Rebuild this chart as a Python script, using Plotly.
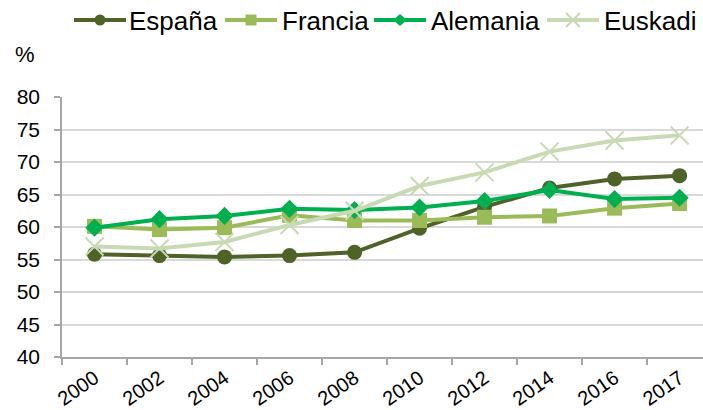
import plotly.graph_objects as go

years = ["2000", "2002", "2004", "2006", "2008", "2010", "2012", "2014", "2016", "2017"]
espana = [55.8, 55.6, 55.4, 55.6, 56.1, 59.8, 63.1, 66.0, 67.4, 67.9]
francia = [60.1, 59.6, 59.9, 61.8, 61.0, 61.0, 61.5, 61.7, 62.9, 63.6]
alemania = [59.9, 61.2, 61.7, 62.8, 62.6, 63.0, 64.0, 65.7, 64.3, 64.5]
euskadi = [57.0, 56.7, 57.7, 60.3, 62.5, 66.3, 68.4, 71.6, 73.3, 74.1]

names = ["España", "Francia", "Alemania", "Euskadi"]
colors = ["#4F6228", "#9BBB59", "#00B050", "#C8DAB4"]
symbols = ["circle", "square", "diamond", "x-thin"]
values = [espana, francia, alemania, euskadi]

W, H = 703, 410
L, R, T, B = 62, 0, 97, 53
PW, PH = W - L - R, H - T - B


def px_x(px):
    return (px - L) / PW


def px_y(py):
    return (H - B - py) / PH


fig = go.Figure()
for name, vals, color, sym in zip(names, values, colors, symbols):
    if sym == "x-thin":
        marker = dict(symbol=sym, size=18, color=color, line=dict(width=2, color=color))
    elif sym == "diamond":
        marker = dict(symbol=sym, size=14, color=color)
    else:
        marker = dict(symbol=sym, size=15, color=color)
    fig.add_trace(go.Scatter(
        x=years, y=vals, name=name, mode="lines+markers",
        line=dict(color=color, width=4), marker=marker, showlegend=False,
    ))

# Custom legend (layout decoration)
shapes = []
annotations = []
sym_start = [74, 225, 374, 547]
text_start = [128, 281, 430, 603]
ly = 20
for i, (name, color, sym) in enumerate(zip(names, colors, symbols)):
    x0, x1 = sym_start[i], sym_start[i] + 52
    cx = (x0 + x1) / 2
    shapes.append(dict(type="line", xref="paper", yref="paper",
                       x0=px_x(x0), x1=px_x(x1), y0=px_y(ly), y1=px_y(ly),
                       line=dict(color=color, width=4)))
    common = dict(xref="paper", yref="paper", xsizemode="pixel", ysizemode="pixel",
                  xanchor=px_x(cx), yanchor=px_y(ly))
    if sym == "circle":
        shapes.append(dict(type="circle", x0=-5.5, x1=5.5, y0=-5.5, y1=5.5,
                           fillcolor=color, line=dict(width=0), **common))
    elif sym == "square":
        shapes.append(dict(type="rect", x0=-5.5, x1=5.5, y0=-5.5, y1=5.5,
                           fillcolor=color, line=dict(width=0), **common))
    elif sym == "diamond":
        shapes.append(dict(type="path", path="M -7 0 L 0 6 L 7 0 L 0 -6 Z",
                           fillcolor=color, line=dict(width=0), **common))
    else:
        shapes.append(dict(type="path", path="M -7 -7 L 7 7 M -7 7 L 7 -7",
                           line=dict(color=color, width=2), **common))
    annotations.append(dict(text=name, x=px_x(text_start[i]), y=px_y(ly + 1),
                            xref="paper", yref="paper", xanchor="left", yanchor="middle",
                            showarrow=False, font=dict(size=26, color="#000000"),
                            borderpad=0))

annotations.append(dict(text="%", x=px_x(25), y=px_y(55), xref="paper", yref="paper",
                        xanchor="center", yanchor="middle", showarrow=False,
                        font=dict(size=22, color="#000000")))

fig.update_layout(
    width=W, height=H,
    margin=dict(l=L, r=R, t=T, b=B, autoexpand=False),
    paper_bgcolor="white", plot_bgcolor="white",
    font=dict(family="Liberation Sans, Arial, sans-serif", size=20, color="#000000"),
    showlegend=False,
    shapes=shapes,
    annotations=annotations,
)

fig.update_xaxes(
    type="category", range=[-0.5, 9.36], automargin=False,
    showline=True, linecolor="#A6A6A6", linewidth=1.5,
    ticks="outside", tickson="boundaries", ticklen=6, tickcolor="#A6A6A6", tickwidth=1.5,
    tickangle=-35, showgrid=False, tickfont=dict(size=20),
)
fig.update_yaxes(
    range=[40, 80], dtick=5, automargin=False,
    showline=True, linecolor="#A6A6A6", linewidth=1.5,
    ticks="outside", ticklen=6, tickcolor="#A6A6A6", tickwidth=1.5,
    showgrid=True, gridcolor="#D9D9D9", gridwidth=1.5, zeroline=False,
    tickfont=dict(size=21), ticklabelstandoff=10,
)

fig.write_html("out.html", config={"displayModeBar": False},
               post_script="document.body.style.margin='0';document.body.style.overflow='hidden';")
